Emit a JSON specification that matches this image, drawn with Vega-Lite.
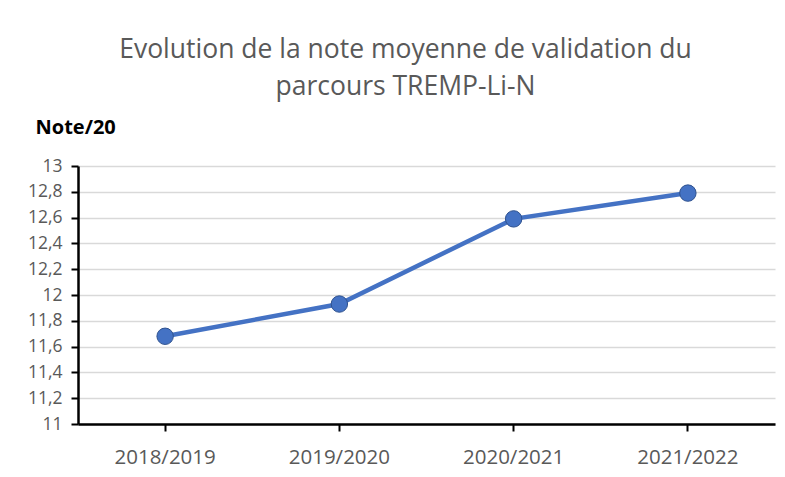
{
  "$schema": "https://vega.github.io/schema/vega-lite/v6.json",
  "width": 697,
  "height": 258,
  "autosize": {"type": "none"},
  "padding": {"left": 78, "top": 166, "right": 10, "bottom": 53},
  "background": "white",
  "title": {
    "text": ["Evolution de la note moyenne de validation du", "parcours TREMP-Li-N"],
    "font": "Open Sans",
    "fontSize": 26.5,
    "fontWeight": "normal",
    "color": "#595959",
    "lineHeight": 37,
    "anchor": "middle",
    "dx": -21,
    "offset": 17
  },
  "config": {
    "view": {"stroke": null},
    "font": "Open Sans"
  },
  "data": {
    "values": [
      {"annee": "2018/2019", "note": 11.68},
      {"annee": "2019/2020", "note": 11.93},
      {"annee": "2020/2021", "note": 12.59},
      {"annee": "2021/2022", "note": 12.79}
    ]
  },
  "encoding": {
    "x": {
      "field": "annee",
      "type": "nominal",
      "sort": null,
      "scale": {"type": "band", "paddingInner": 0, "paddingOuter": 0},
      "axis": {
        "title": null,
        "labelAngle": 0,
        "labelFont": "Open Sans",
        "labelFontSize": 20.5,
        "labelColor": "#595959",
        "labelPadding": 16,
        "domainColor": "black",
        "domainWidth": 2.5,
        "tickColor": "black",
        "tickWidth": 2,
        "tickSize": 7,
        "grid": false
      }
    },
    "y": {
      "field": "note",
      "type": "quantitative",
      "scale": {"domain": [11, 13], "zero": false, "nice": false},
      "axis": {
        "values": [11, 11.2, 11.4, 11.6, 11.8, 12, 12.2, 12.4, 12.6, 12.8, 13],
        "labelExpr": "replace(format(datum.value, '.1~f'), '.', ',')",
        "labelFont": "Open Sans",
        "labelFontSize": 17.5,
        "labelColor": "#595959",
        "labelPadding": 9,
        "domainColor": "black",
        "domainWidth": 2.5,
        "tickColor": "black",
        "tickWidth": 2,
        "tickSize": 7,
        "gridColor": "#d9d9d9",
        "gridWidth": 1.5,
        "title": "Note/20",
        "titleAngle": 0,
        "titleFont": "Open Sans",
        "titleFontSize": 20,
        "titleFontWeight": "bold",
        "titleColor": "black",
        "titleAlign": "left",
        "titleBaseline": "middle",
        "titleX": -43,
        "titleY": -39
      }
    }
  },
  "layer": [
    {"mark": {"type": "line", "color": "#4472c4", "strokeWidth": 4.5}},
    {"mark": {"type": "point", "filled": true, "size": 270, "color": "#4472c4", "stroke": "#2f528f", "strokeWidth": 1, "opacity": 1}}
  ]
}
